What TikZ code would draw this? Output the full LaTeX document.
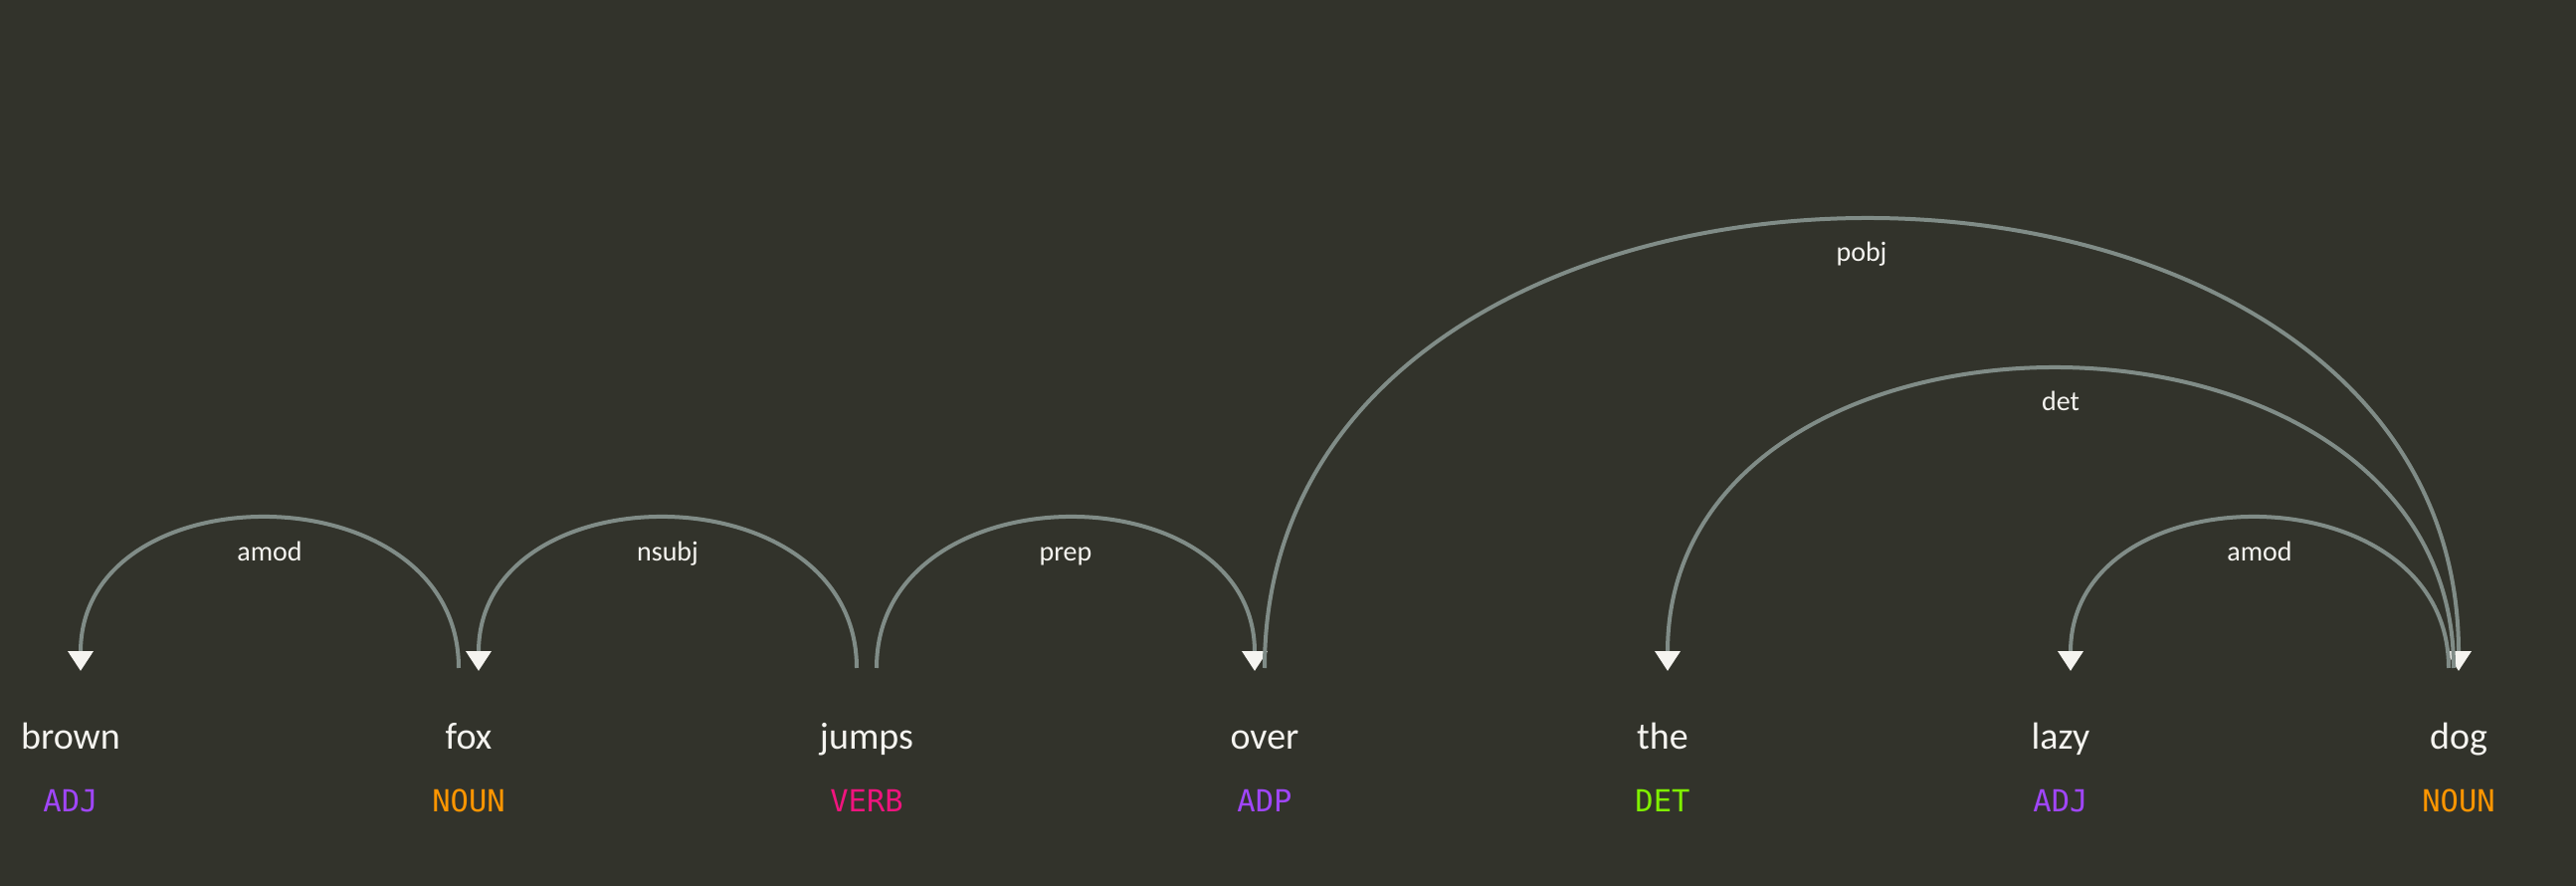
\documentclass[tikz,border=0pt]{standalone}
\usepackage{fontspec}
\setmainfont{Carlito}
\setmonofont{DejaVu Sans Mono}
\usetikzlibrary{arrows.meta}

\begin{document}
\begin{tikzpicture}[x=1pt,y=-1pt,
	>={Triangle[width=25pt,length=20pt,color=ctip]},
	word/.style={anchor=base,inner sep=0pt,text=ctxt,font=\fontsize{38}{40}\selectfont},
	tag/.style={anchor=base,inner sep=0pt,font=\ttfamily\fontsize{30.5}{32}\selectfont},
	arc/.style={draw=carc,line width=4pt},
	lbl/.style={anchor=base,inner sep=0pt,yshift=-42pt,text=ctxt,font=\fontsize{28}{30}\selectfont}]
	\definecolor{cbg}{RGB}{50,51,43}
	\definecolor{carc}{RGB}{128,140,135}
	\definecolor{ctip}{RGB}{245,244,240}
	\definecolor{ctxt}{RGB}{245,244,240}
	\definecolor{cadj}{RGB}{160,70,250}
	\definecolor{cnoun}{RGB}{255,150,0}
	\definecolor{cverb}{RGB}{240,20,126}
	\definecolor{cdet}{RGB}{127,240,0}
	%
	\useasboundingbox (0,0) rectangle (2589,890);
	\fill[cbg] (0,0) rectangle (2589,890);
	%
	\coordinate (a0) at (71,671);
	\coordinate (a1) at (471,671);
	\coordinate (a2) at (871,671);
	\coordinate (a3) at (1271,671);
	\coordinate (a4) at (1671,671);
	\coordinate (a5) at (2071,671);
	\coordinate (a6) at (2471,671);
	%
	\node[word] (w0) at (71,752) {brown};
	\node[word] (w1) at (471,752) {fox};
	\node[word] (w2) at (871,752) {jumps};
	\node[word] (w3) at (1271,752) {over};
	\node[word] (w4) at (1671,752) {the};
	\node[word] (w5) at (2071,752) {lazy};
	\node[word] (w6) at (2471,752) {dog};
	%
	\node[tag,text=cadj] (p0) at (71,815) {ADJ};
	\node[tag,text=cnoun] (p1) at (471,815) {NOUN};
	\node[tag,text=cverb] (p2) at (871,815) {VERB};
	\node[tag,text=cadj] (p3) at (1271,815) {ADP};
	\node[tag,text=cdet] (p4) at (1671,815) {DET};
	\node[tag,text=cadj] (p5) at (2071,815) {ADJ};
	\node[tag,text=cnoun] (p6) at (2471,815) {NOUN};
	%
	\draw[arc,<-,shorten <=-3pt] ([xshift=10pt]a0) .. controls ([xshift=10pt,yshift=200pt]a0) and ([xshift=-10pt,yshift=200pt]a1) .. ([xshift=-10pt]a1) node[lbl,pos=0.5] {amod};
	\draw[arc,<-,shorten <=-3pt] ([xshift=10pt]a1) .. controls ([xshift=10pt,yshift=200pt]a1) and ([xshift=-10pt,yshift=200pt]a2) .. ([xshift=-10pt]a2) node[lbl,pos=0.5] {nsubj};
	\draw[arc,->,shorten >=-3pt] ([xshift=10pt]a2) .. controls ([xshift=10pt,yshift=200pt]a2) and ([xshift=-10pt,yshift=200pt]a3) .. ([xshift=-10pt]a3) node[lbl,pos=0.5] {prep};
	\draw[arc,->,shorten >=-3pt] (a3) .. controls ([yshift=600pt]a3) and ([yshift=600pt]a6) .. (a6) node[lbl,pos=0.5] {pobj};
	\draw[arc,<-,shorten <=-3pt] ([xshift=5pt]a4) .. controls ([xshift=5pt,yshift=400pt]a4) and ([xshift=-5pt,yshift=400pt]a6) .. ([xshift=-5pt]a6) node[lbl,pos=0.5] {det};
	\draw[arc,<-,shorten <=-3pt] ([xshift=10pt]a5) .. controls ([xshift=10pt,yshift=200pt]a5) and ([xshift=-10pt,yshift=200pt]a6) .. ([xshift=-10pt]a6) node[lbl,pos=0.5] {amod};
	%
\end{tikzpicture}
\end{document}
